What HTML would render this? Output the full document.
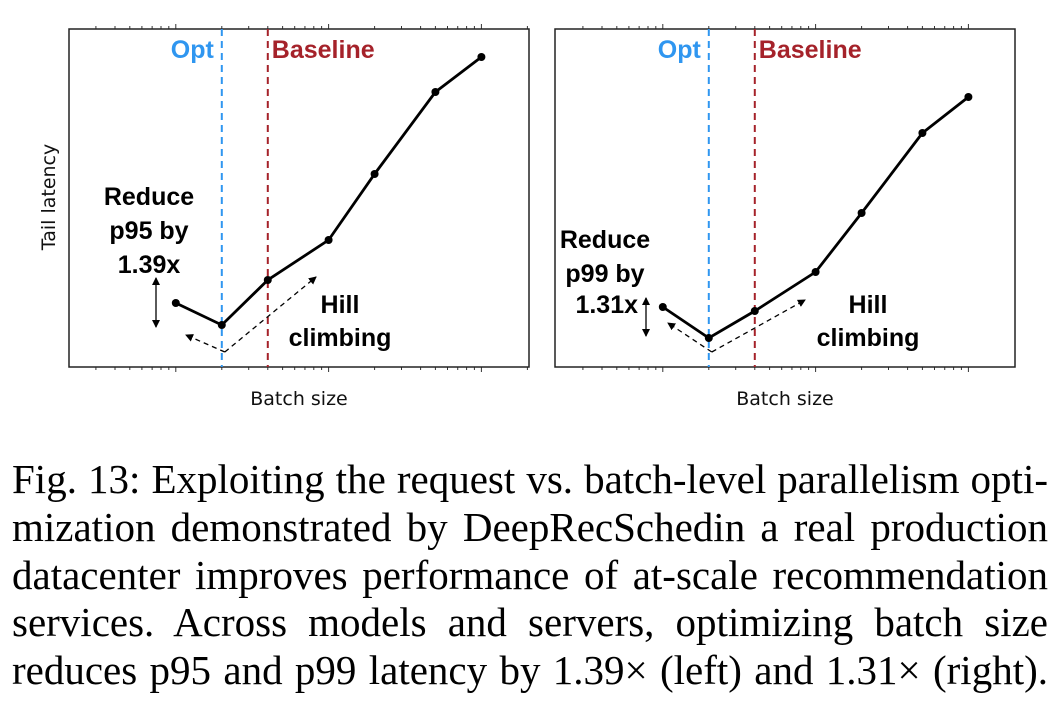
<!DOCTYPE html>
<html><head><meta charset="utf-8">
<style>
body{margin:0;background:#fff;width:1064px;height:706px;overflow:hidden;position:relative}
.cap{position:absolute;left:12px;width:1036px;top:456px;font-family:"Liberation Serif",serif;font-size:41px;line-height:47.75px;color:#000}
.cap div{text-align:justify;text-align-last:justify;white-space:nowrap;}
</style></head><body>
<svg id="chart" width="1064" height="440" style="position:absolute;left:0;top:0"></svg>
<div class="cap">
<div>Fig. 13: Exploiting the request vs. batch-level parallelism opti-</div>
<div>mization demonstrated by DeepRecSchedin a real production</div>
<div>datacenter improves performance of at-scale recommendation</div>
<div>services. Across models and servers, optimizing batch size</div>
<div>reduces p95 and p99 latency by 1.39× (left) and 1.31× (right).</div>
</div>
<script>
const batchSizes=[10,20,40,100,200,500,1000];
const leftLatency=[64,42,87,127,193,275,310];
const rightLatency=[60,29,56,95,154,234,270];
const leftOpt=20, leftBase=40, rightOpt=20, rightBase=40;

const NS="http://www.w3.org/2000/svg";
const svg=document.getElementById('chart');
function mk(tag,attrs,parent){const e=document.createElementNS(NS,tag);for(const k in attrs)e.setAttribute(k,attrs[k]);(parent||svg).appendChild(e);return e;}
const defs=mk('defs',{});
const m=mk('marker',{id:'ah',markerWidth:8,markerHeight:8,refX:7,refY:4,orient:'auto-start-reverse',markerUnits:'userSpaceOnUse'},defs);
mk('path',{d:'M0,0 L8,4 L0,8 Z',fill:'#000'},m);

function panel(cfg){
  const g=mk('g',{});
  
  
  const L=cfg.left,R=cfg.left+460,T=29,B=367;
  const x=v=>cfg.x1+152.8*Math.log10(v);
  const y=v=>B-v;
  for(let d=1;d<=1000;d*=10){for(let k=1;k<10;k++){const px=x(d*k);if(px>L+1&&px<R-1){
    const len=k==1?5:3;
    const t1=mk('line',{x1:px,x2:px,y1:B,y2:B+len,stroke:'#333','stroke-width':1},g);
    
    const t2=mk('line',{x1:px,x2:px,y1:T,y2:T-len,stroke:'#333','stroke-width':1},g);
    
  }}}
  const box=mk('rect',{x:L,y:T,width:R-L,height:B-T,fill:'none',stroke:'#222','stroke-width':1.5},g);
  
  const o=mk('line',{x1:x(cfg.opt),x2:x(cfg.opt),y1:T,y2:B,stroke:'#2f96f0','stroke-width':2,'stroke-dasharray':'7,5'},g);
  
  const b=mk('line',{x1:x(cfg.base),x2:x(cfg.base),y1:T,y2:B,stroke:'#a5222a','stroke-width':2,'stroke-dasharray':'7,5'},g);
  
  const pts=batchSizes.map((v,i)=>x(v)+','+y(cfg.data[i])).join(' ');
  const pl=mk('polyline',{points:pts,fill:'none',stroke:'#000','stroke-width':2.8},g);
  
  batchSizes.forEach((v,i)=>{const c=mk('circle',{cx:x(v),cy:y(cfg.data[i]),r:4,fill:'#000'},g);
    });
  const bf='"Liberation Sans",Arial,sans-serif';
  function txt(s,xx,yy,opts){const t=mk('text',Object.assign({x:xx,y:yy,'font-family':bf,'font-size':25,'font-weight':'bold','text-anchor':'middle',fill:'#000'},opts||{}),g);t.textContent=s;return t;}
  let t=txt('Opt',x(cfg.opt)-8,58,{'text-anchor':'end',fill:'#2f96f0'});
  t=txt('Baseline',x(cfg.base)+4,58,{'text-anchor':'start',fill:'#a5222a'});
  cfg.reduce.forEach((s,i)=>{const tt=txt(s,cfg.rx,cfg.ry+i*34);});
  t=txt('Hill',cfg.hx,313);
  t=txt('climbing',cfg.hx,346);
  const a=mk('line',{x1:cfg.ax,x2:cfg.ax,y1:cfg.ay1,y2:cfg.ay2,stroke:'#000','stroke-width':1.3,'marker-end':'url(#ah)','marker-start':'url(#ah)'},g);
  
  const vx=x(cfg.opt)+3,vy=352;
  const d1=mk('line',{x1:vx,y1:vy,x2:cfg.d1[0],y2:cfg.d1[1],stroke:'#000','stroke-width':1.3,'stroke-dasharray':'5,4','marker-end':'url(#ah)'},g);
  
  const d2=mk('line',{x1:vx,y1:vy,x2:cfg.d2[0],y2:cfg.d2[1],stroke:'#000','stroke-width':1.3,'stroke-dasharray':'5,4','marker-end':'url(#ah)'},g);
  
  t=mk('text',{x:(L+R)/2,y:405,'font-family':'"DejaVu Sans",sans-serif','font-size':19,'text-anchor':'middle',fill:'#111'},g);
  t.textContent='Batch size';
}
panel({name:'left-chart',left:69,x1:23,data:leftLatency,opt:leftOpt,base:leftBase,reduce:['Reduce','p95 by','1.39x'],rx:149,ry:205,hx:340,ax:156,ay1:278,ay2:327,d1:[186,335],d2:[316,277]});
panel({name:'right-chart',left:555,x1:510,data:rightLatency,opt:rightOpt,base:rightBase,reduce:['Reduce','p99 by'],rx:605,ry:248,hx:868,ax:646,ay1:298,ay2:336,d1:[668,323],d2:[805,300]});
const r3=mk('text',{x:638,y:313,'font-family':'"Liberation Sans",Arial,sans-serif','font-size':25,'font-weight':'bold','text-anchor':'end',fill:'#000'});
r3.textContent='1.31x';


const yl=mk('text',{x:0,y:0,transform:'translate(55,197) rotate(-90)','font-family':'"DejaVu Sans",sans-serif','font-size':19,'text-anchor':'middle',fill:'#111'});
yl.textContent='Tail latency';


</script>
</body></html>
